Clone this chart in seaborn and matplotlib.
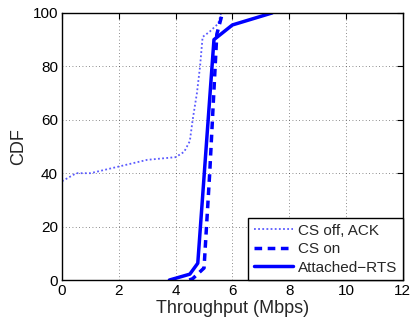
import matplotlib
matplotlib.use("Agg")
import matplotlib.pyplot as plt
import seaborn as sns
import pandas as pd

# CS off, ACK (dotted)
x_off = [0.0, 0.5, 1.0, 2.0, 3.0, 4.0, 4.3, 4.5, 4.6, 4.75, 4.86, 4.95, 5.2, 5.5, 5.6, 6.2]
y_off = [37, 40, 40, 42.5, 45, 46, 48, 52, 60, 70, 80, 91, 93, 96, 100, 100]
# CS on (dashed)
x_on = [4.48, 4.6, 5.0, 5.2, 5.45, 5.65]
y_on = [0, 0.5, 4.5, 40, 92, 100]
# Attached-RTS (solid)
x_rts = [3.78, 4.5, 4.78, 5.35, 6.0, 7.4]
y_rts = [0, 2.2, 6.3, 90, 95.5, 100]

labels = ["CS off, ACK", "CS on", "Attached\u2212RTS"]
xticks = [0, 2, 4, 6, 8, 10, 12]
yticks = [0, 20, 40, 60, 80, 100]

sns.set_style("white")
plt.rcParams['font.family'] = ['Liberation Sans', 'DejaVu Sans']

fig = plt.figure(figsize=(4.11, 3.23), dpi=100)
ax = fig.add_axes([0.151, 0.133, 0.829, 0.827])

df_off = pd.DataFrame({"x": x_off, "y": y_off})
df_on = pd.DataFrame({"x": x_on, "y": y_on})
df_rts = pd.DataFrame({"x": x_rts, "y": y_rts})

sns.lineplot(data=df_off, x="x", y="y", ax=ax, sort=False, estimator=None,
             color="#5a5aff", lw=1.3, linestyle=(0, (1, 1.3)), label=labels[0])
sns.lineplot(data=df_on, x="x", y="y", ax=ax, sort=False, estimator=None,
             color="#0000ff", lw=2.5, linestyle=(0, (2.2, 1.6)), label=labels[1])
sns.lineplot(data=df_rts, x="x", y="y", ax=ax, sort=False, estimator=None,
             color="#0000ff", lw=2.5, linestyle="-", label=labels[2])

ax.set_xlim(0, 12)
ax.set_ylim(0, 100)
ax.set_xticks(xticks)
ax.set_yticks(yticks)
ax.tick_params(direction="in", top=True, right=True, length=4, width=0.8,
               labelsize=11, colors="black", pad=3)
ax.grid(True, color="black", linestyle=(0, (1, 3)), linewidth=0.6, alpha=0.6)
for s in ax.spines.values():
    s.set_color("black")
    s.set_linewidth(1.0)
ax.set_xlabel("Throughput (Mbps)", fontsize=13, labelpad=1)
ax.set_ylabel("CDF", fontsize=13, labelpad=4)

leg = ax.legend(loc="lower right", fontsize=11, frameon=True, fancybox=False,
                edgecolor="black", framealpha=1, borderpad=0.35, handlelength=2.6,
                handletextpad=0.3, labelspacing=0.3, borderaxespad=0.0)
leg.get_frame().set_linewidth(1.0)

fig.savefig("out.png", dpi=100)
